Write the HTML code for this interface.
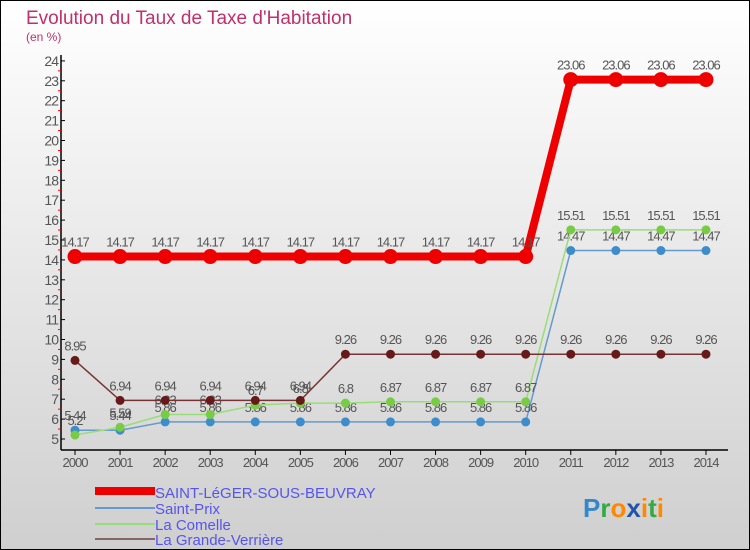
<!DOCTYPE html>
<html><head><meta charset="utf-8"><style>
body{margin:0}
#c{width:750px;height:550px;position:relative;background:linear-gradient(#ffffff,#cfcfcf);box-sizing:border-box;border:1px solid #000;font-family:"Liberation Sans",sans-serif;overflow:hidden}
</style></head><body>
<div id="c">
<svg id="s" width="750" height="550" style="position:absolute;left:-1px;top:-1px">
<text x="26" y="24" font-size="19" fill="#c0306a">Evolution du Taux de Taxe d'Habitation</text>
<text x="26" y="41" font-size="12" fill="#c0306a">(en %)</text>
<g id="axes"></g><g id="series"></g>
<g>
<rect x="95" y="487" width="60" height="8" fill="#ee0000"/>
<text x="155" y="498" font-size="15" fill="#5555ee">SAINT-LéGER-SOUS-BEUVRAY</text>
<rect x="95" y="507" width="60" height="2" fill="#6699cc"/>
<text x="155" y="514" font-size="15" fill="#5555ee">Saint-Prix</text>
<rect x="95" y="523" width="60" height="2" fill="#99dd77"/>
<text x="155" y="530" font-size="15" fill="#5555ee">La Comelle</text>
<rect x="95" y="538" width="60" height="2" fill="#886666"/>
<text x="155" y="545" font-size="15" fill="#5555ee">La Grande-Verrière</text>
</g>
<text x="583" y="517" font-size="26" font-weight="bold"><tspan fill="#3388cc">P</tspan><tspan fill="#33aa44">r</tspan><tspan fill="#ff8800">o</tspan><tspan fill="#2255aa">x</tspan><tspan fill="#ff8800">i</tspan><tspan fill="#33aa44">t</tspan><tspan fill="#ff8800">i</tspan></text>
</svg>
</div>
<script>
const years=[2000,2001,2002,2003,2004,2005,2006,2007,2008,2009,2010,2011,2012,2013,2014];
const yTicks=[5,6,7,8,9,10,11,12,13,14,15,16,17,18,19,20,21,22,23,24];
const saintLeger=[14.17,14.17,14.17,14.17,14.17,14.17,14.17,14.17,14.17,14.17,14.17,23.06,23.06,23.06,23.06];
const saintPrix=[5.44,5.44,5.86,5.86,5.86,5.86,5.86,5.86,5.86,5.86,5.86,14.47,14.47,14.47,14.47];
const laComelle=[5.2,5.59,6.23,6.23,6.7,6.8,6.8,6.87,6.87,6.87,6.87,15.51,15.51,15.51,15.51];
const grandeVerriere=[8.95,6.94,6.94,6.94,6.94,6.94,9.26,9.26,9.26,9.26,9.26,9.26,9.26,9.26,9.26];
const NS="http://www.w3.org/2000/svg";
const X=i=>75+i*45.07;
const Y=v=>439-(v-5)*19.9;
function mk(t,a,p){const e=document.createElementNS(NS,t);for(const k in a)e.setAttribute(k,a[k]);p.appendChild(e);return e;}
const ax=document.getElementById('axes'),sg=document.getElementById('series');
let yl=mk('line',{x1:61,y1:55,x2:61,y2:450,stroke:'#000','stroke-width':1.5},ax);


let xl=mk('line',{x1:61,y1:450,x2:728,y2:450,stroke:'#000','stroke-width':1.5},ax);


yTicks.forEach(v=>{
  mk('line',{x1:61,y1:Y(v),x2:65,y2:Y(v),stroke:'#000'},ax);
  if(v<24)mk('line',{x1:58,y1:Y(v+0.5),x2:61,y2:Y(v+0.5),stroke:'#f00'},ax);
  const t=mk('text',{x:58,y:Y(v)+5,'font-size':14,fill:'#555','text-anchor':'end','letter-spacing':'-1'},ax);
  t.textContent=v;
  
  
});
years.forEach((y,i)=>{
  mk('line',{x1:X(i),y1:450,x2:X(i),y2:455,stroke:'#000'},ax);
  const t=mk('text',{x:X(i),y:467,'font-size':13,fill:'#555','text-anchor':'middle','letter-spacing':'-1'},ax);
  t.textContent=y;
  
  
});
function series(data,color,w,r,fill,name){
  const g=mk('g',{},sg);
  
  
  mk('polyline',{points:data.map((v,i)=>X(i)+','+Y(v)).join(' '),fill:'none',stroke:color,'stroke-width':w},g);
  data.forEach((v,i)=>{
    const c=mk('circle',{cx:X(i),cy:Y(v),r:r,fill:fill,stroke:fill},g);
    
    
    const t=mk('text',{x:X(i),y:Y(v)-10,'font-size':13,fill:'#555','text-anchor':'middle','letter-spacing':'-1'},g);
    t.textContent=v;
    
    
  });
}
series(saintPrix,'#6699cc',1.5,4,'#3d8ccc','series-saint-prix');
series(laComelle,'#99dd77',1.5,4,'#77cc44','series-la-comelle');
series(grandeVerriere,'#773333',1.5,4,'#661a1a','series-la-grande-verriere');
series(saintLeger,'#ee0000',8,7,'#ee0000','series-saint-leger');
</script>
</body></html>
